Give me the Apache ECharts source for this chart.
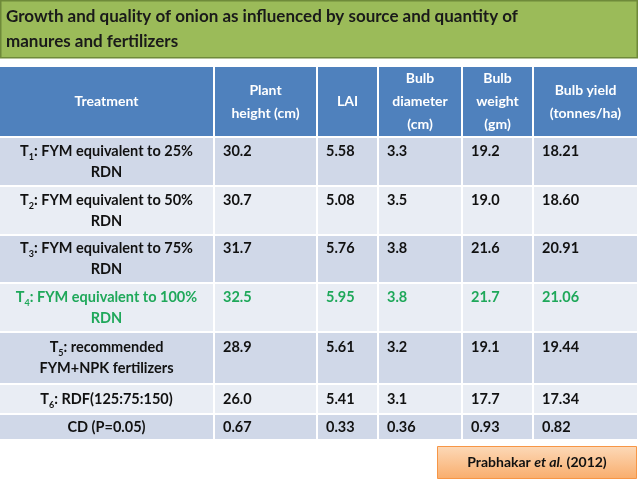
<!DOCTYPE html>
<html>
<head>
<meta charset="utf-8">
<script src="https://cdn.jsdelivr.net/npm/echarts@6/dist/echarts.min.js"></script>
<style>
  html, body { margin: 0; padding: 0; background: #fff; }
  #main { width: 638px; height: 479px; }
</style>
</head>
<body>
<div id="main"></div>
<script>
// table data
var headers = ['Treatment', 'Plant\nheight (cm)', 'LAI', 'Bulb\ndiameter\n(cm)', 'Bulb\nweight\n(gm)', 'Bulb yield\n(tonnes/ha)'];
var treatments = [
  '{b|T}{s|1}{b|: FYM equivalent to 25%}\n{b|RDN}',
  '{b|T}{s|2}{b|: FYM equivalent to 50%}\n{b|RDN}',
  '{b|T}{s|3}{b|: FYM equivalent to 75%}\n{b|RDN}',
  '{g|T}{gs|4}{g|: FYM equivalent to 100%}\n{g|RDN}',
  '{b|T}{s|5}{b|: recommended}\n{b|FYM+NPK fertilizers}',
  '{b|T}{s|6}{b|: RDF(125:75:150)}',
  '{b|CD (P=0.05)}'
];
var plantHeight = ['30.2', '30.7', '31.7', '32.5', '28.9', '26.0', '0.67'];
var lai = ['5.58', '5.08', '5.76', '5.95', '5.61', '5.41', '0.33'];
var bulbDiameter = ['3.3', '3.5', '3.8', '3.8', '3.2', '3.1', '0.36'];
var bulbWeight = ['19.2', '19.0', '21.6', '21.7', '19.1', '17.7', '0.93'];
var bulbYield = ['18.21', '18.60', '20.91', '21.06', '19.44', '17.34', '0.82'];
var highlightRow = 3;

// layout
var colEdges = [0, 214, 317, 378, 462, 533, 638];
var rowEdges = [66, 137, 186, 235, 283, 332, 384, 414, 440];
var FONT = 'Lato, "Open Sans", sans-serif';
var GREEN = '#1fa85a';

var columns = [treatments, plantHeight, lai, bulbDiameter, bulbWeight, bulbYield];
var cells = [];
for (var c = 0; c < headers.length; c++) {
  cells.push([c, -1]);
  for (var r = 0; r < treatments.length; r++) cells.push([c, r]);
}

var chart = echarts.init(document.getElementById('main'));

chart.setOption({
  animation: false,
  graphic: [
    { type: 'rect', shape: { x: 0.75, y: 0.75, width: 636.5, height: 57 },
      style: { fill: '#9bbb59', stroke: '#6f8a3a', lineWidth: 1.5 } },
    { type: 'text', left: 6, top: 4,
      style: { text: 'Growth and quality of onion as influenced by source and quantity of\nmanures and fertilizers',
        font: 'bold 17px ' + FONT, fill: '#1a1a1a', lineHeight: 25 } },
    { type: 'rect', shape: { x: 437.5, y: 446.5, width: 199, height: 32 },
      style: { stroke: '#f79646', lineWidth: 1,
        fill: new echarts.graphic.LinearGradient(0, 0, 0, 1, [
          { offset: 0, color: '#fcd9b8' }, { offset: 1, color: '#f9ad6c' }]) } },
    { type: 'text', x: 537, y: 462,
      style: { text: '{n|Prabhakar }{i|et al.}{n| (2012)}', align: 'center', verticalAlign: 'middle',
        rich: { n: { font: 'bold 14px ' + FONT, fill: '#111' },
                i: { font: 'italic bold 14px ' + FONT, fill: '#111' } } } }
  ],
  series: [{
    type: 'custom',
    coordinateSystem: 'none',
    data: cells,
    renderItem: function (params, api) {
      var c = api.value(0), r = api.value(1);
      var x0 = colEdges[c] + (c > 0 ? 1 : 0), x1 = colEdges[c + 1] - 1;
      var y0 = rowEdges[r + 1] + 1, y1 = rowEdges[r + 2] - 1;
      var fill = r < 0 ? '#4f81bd' : (r % 2 === 0 ? '#d0d8e8' : '#e9edf4');
      var children = [{ type: 'rect', shape: { x: x0, y: y0, width: x1 - x0, height: y1 - y0 }, style: { fill: fill } }];
      var cy = (y0 + y1) / 2;
      var color = r === highlightRow ? GREEN : '#111';
      if (r < 0) {
        children.push({ type: 'text', style: { text: headers[c], x: (x0 + x1) / 2, y: cy,
          align: 'center', verticalAlign: 'middle', font: 'bold 14px ' + FONT, fill: '#fff', lineHeight: 23 } });
      } else if (c === 0) {
        children.push({ type: 'text', style: { text: treatments[r], x: (x0 + x1) / 2, y: cy,
          align: 'center', verticalAlign: 'middle',
          rich: {
            b: { font: 'bold 14.5px ' + FONT, fill: '#111', lineHeight: 21 },
            s: { font: 'bold 9px ' + FONT, fill: '#111', lineHeight: 21, verticalAlign: 'bottom', padding: [8, 0, 0, 0] },
            g: { font: 'bold 14.5px ' + FONT, fill: GREEN, lineHeight: 21 },
            gs: { font: 'bold 9px ' + FONT, fill: GREEN, lineHeight: 21, verticalAlign: 'bottom', padding: [8, 0, 0, 0] }
          } } });
      } else {
        var lines = treatments[r].split('\n').length;
        children.push({ type: 'text', style: { text: columns[c][r], x: x0 + 8, y: cy - (lines - 1) * 10.5,
          align: 'left', verticalAlign: 'middle', font: 'bold 14.5px ' + FONT, fill: color } });
      }
      return { type: 'group', children: children };
    }
  }]
});
</script>
</body>
</html>
